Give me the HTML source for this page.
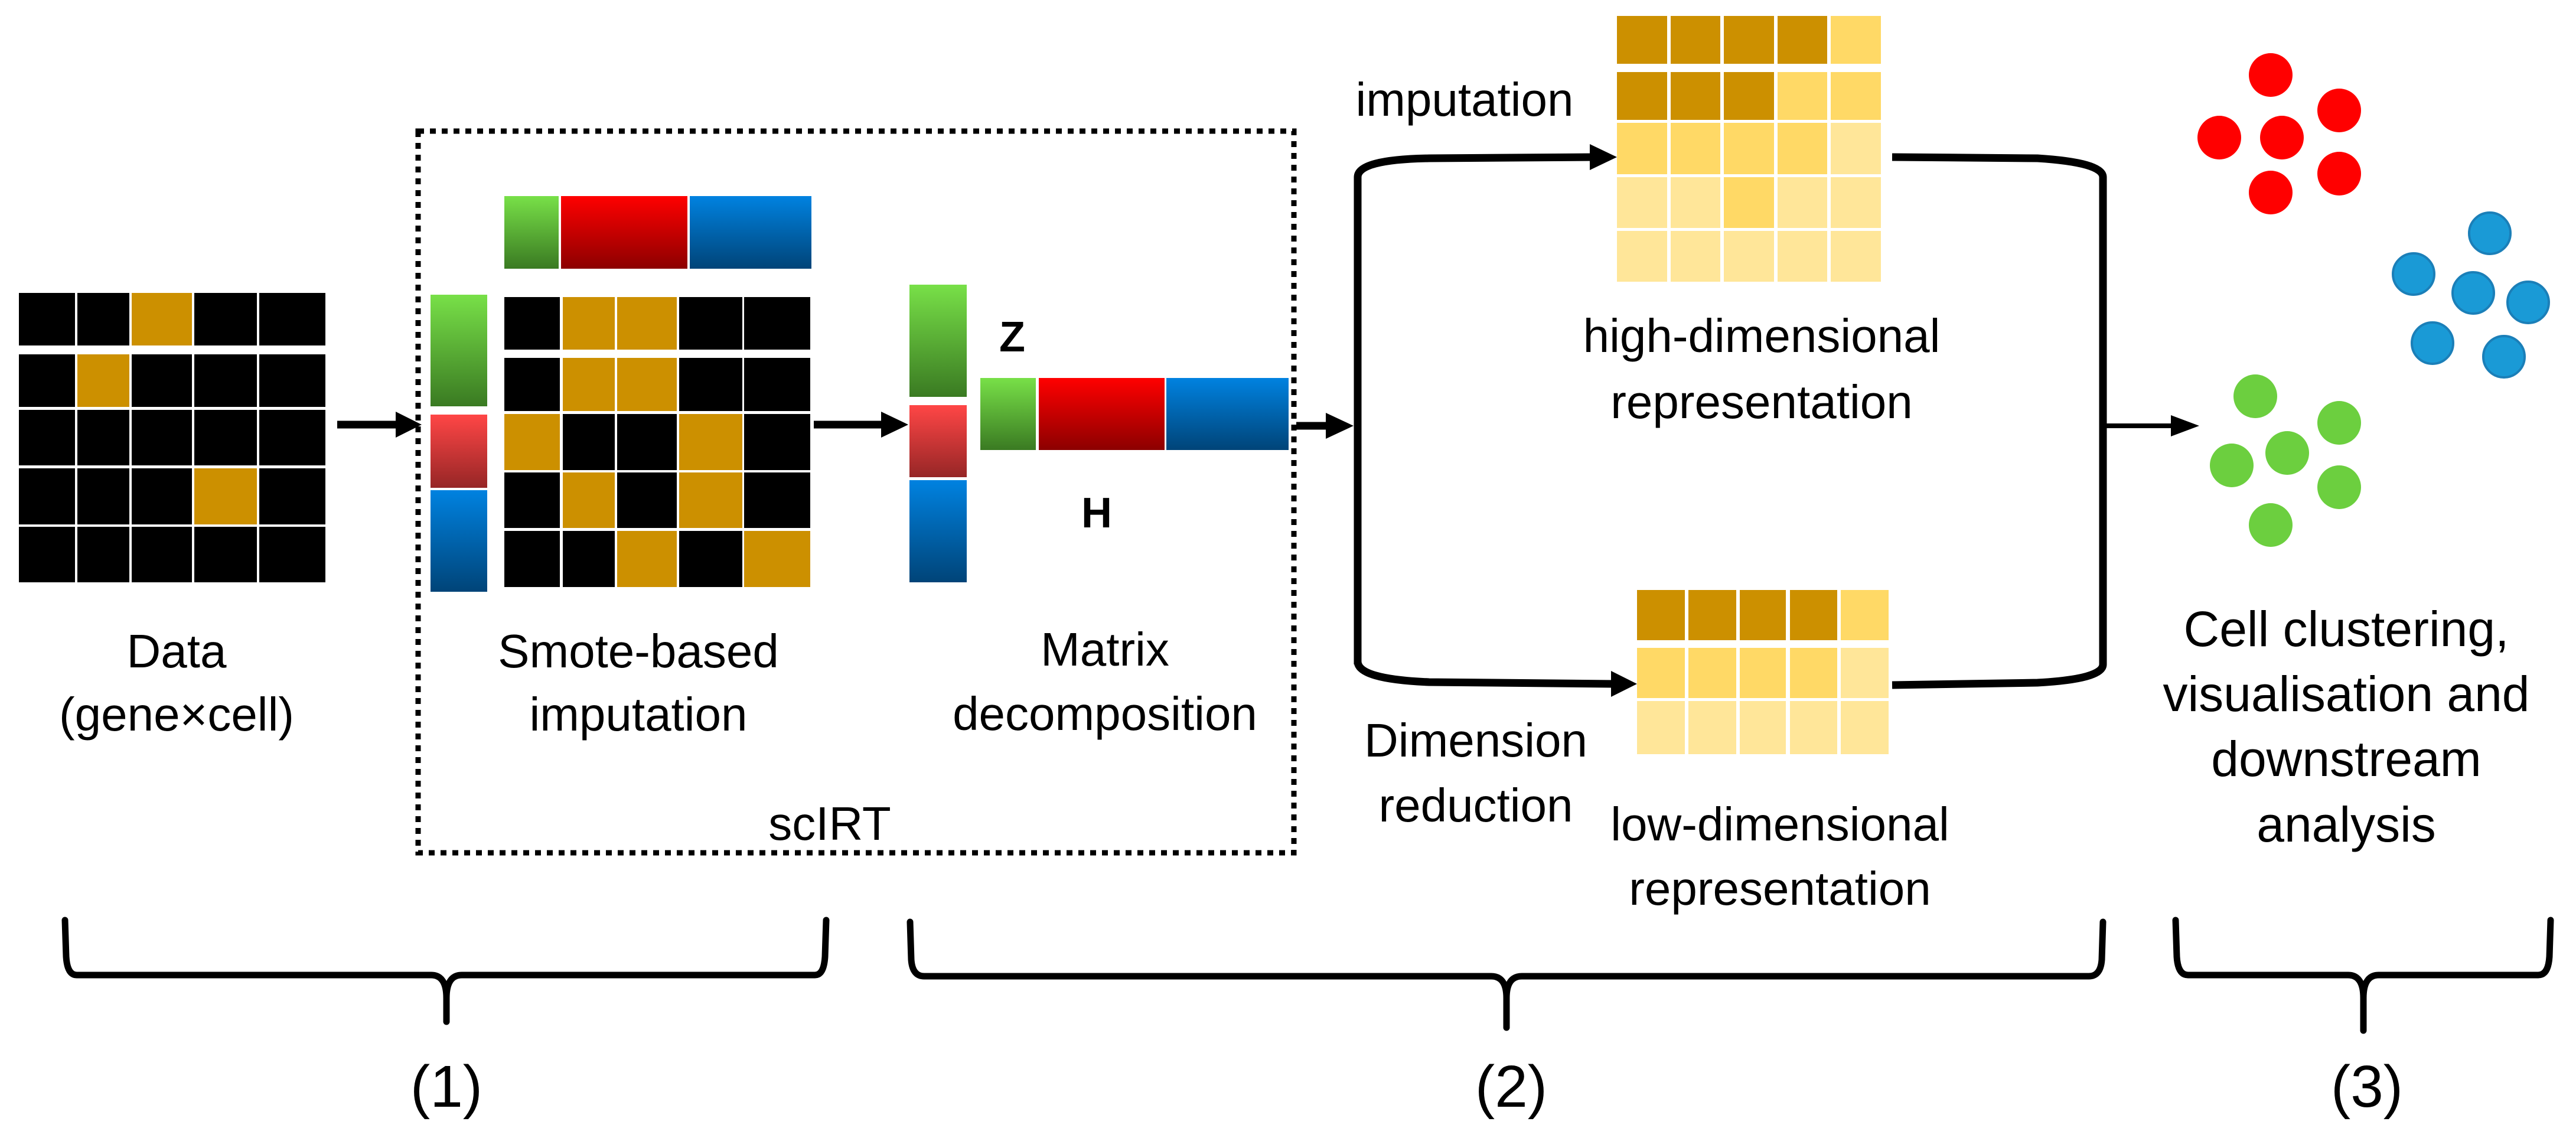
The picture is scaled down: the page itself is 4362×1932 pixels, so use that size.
<!DOCTYPE html>
<html><head><meta charset="utf-8"><style>
html,body{margin:0;padding:0;background:#fff;}
svg{display:block;}
text{font-family:"Liberation Sans",sans-serif;fill:#000;}
</style></head><body>
<svg width="4362" height="1932" viewBox="0 0 4362 1932" xmlns="http://www.w3.org/2000/svg">
<defs>
<linearGradient id="g" x1="0" y1="0" x2="0" y2="1"><stop offset="0" stop-color="#78e048"/><stop offset="1" stop-color="#3a7a22"/></linearGradient>
<linearGradient id="r" x1="0" y1="0" x2="0" y2="1"><stop offset="0" stop-color="#ff0000"/><stop offset="1" stop-color="#8c0000"/></linearGradient>
<linearGradient id="r2" x1="0" y1="0" x2="0" y2="1"><stop offset="0" stop-color="#ff4646"/><stop offset="1" stop-color="#962626"/></linearGradient>
<linearGradient id="b" x1="0" y1="0" x2="0" y2="1"><stop offset="0" stop-color="#0082e0"/><stop offset="1" stop-color="#004478"/></linearGradient>
</defs>

<!-- Data matrix -->
<g>
<rect x="32" y="496" width="519" height="490" fill="#fff"/>
<g fill="#000">
<rect x="32" y="496" width="95" height="89"/><rect x="131" y="496" width="88" height="89"/><rect x="223" y="496" width="102" height="89" fill="#cc9000"/><rect x="329" y="496" width="106" height="89"/><rect x="439" y="496" width="112" height="89"/>
<rect x="32" y="600" width="95" height="89"/><rect x="131" y="600" width="88" height="89" fill="#cc9000"/><rect x="223" y="600" width="102" height="89"/><rect x="329" y="600" width="106" height="89"/><rect x="439" y="600" width="112" height="89"/>
<rect x="32" y="694" width="95" height="94"/><rect x="131" y="694" width="88" height="94"/><rect x="223" y="694" width="102" height="94"/><rect x="329" y="694" width="106" height="94"/><rect x="439" y="694" width="112" height="94"/>
<rect x="32" y="793" width="95" height="95"/><rect x="131" y="793" width="88" height="95"/><rect x="223" y="793" width="102" height="95"/><rect x="329" y="793" width="106" height="95" fill="#cc9000"/><rect x="439" y="793" width="112" height="95"/>
<rect x="32" y="892" width="95" height="94"/><rect x="131" y="892" width="88" height="94"/><rect x="223" y="892" width="102" height="94"/><rect x="329" y="892" width="106" height="94"/><rect x="439" y="892" width="112" height="94"/>
</g>
</g>
<text x="299" y="1130" font-size="80" text-anchor="middle">Data</text>
<text x="299" y="1237" font-size="80" text-anchor="middle">(gene×cell)</text>

<!-- arrow 1 -->
<line x1="571" y1="719" x2="680" y2="719" stroke="#000" stroke-width="13"/>
<polygon points="670,697 714,719 670,741" fill="#000"/>

<!-- dotted box -->
<rect x="708" y="222" width="1483" height="1222" fill="none" stroke="#000" stroke-width="9" stroke-dasharray="10 10"/>
<text x="1405" y="1422" font-size="80" text-anchor="middle">scIRT</text>

<!-- smote bars -->
<rect x="854" y="332" width="92" height="123" fill="url(#g)"/>
<rect x="950" y="332" width="214" height="123" fill="url(#r)"/>
<rect x="1168" y="332" width="206" height="123" fill="url(#b)"/>
<rect x="729" y="499" width="96" height="189" fill="url(#g)"/>
<rect x="729" y="702" width="96" height="124" fill="url(#r2)"/>
<rect x="729" y="830" width="96" height="172" fill="url(#b)"/>
<g>
<rect x="854" y="503" width="94" height="89" fill="#000"/><rect x="953" y="503" width="88" height="89" fill="#cc9000"/><rect x="1045" y="503" width="101" height="89" fill="#cc9000"/><rect x="1150" y="503" width="107" height="89" fill="#000"/><rect x="1260" y="503" width="112" height="89" fill="#000"/>
<rect x="854" y="606" width="94" height="90" fill="#000"/><rect x="953" y="606" width="88" height="90" fill="#cc9000"/><rect x="1045" y="606" width="101" height="90" fill="#cc9000"/><rect x="1150" y="606" width="107" height="90" fill="#000"/><rect x="1260" y="606" width="112" height="90" fill="#000"/>
<rect x="854" y="701" width="94" height="95" fill="#cc9000"/><rect x="953" y="701" width="88" height="95" fill="#000"/><rect x="1045" y="701" width="101" height="95" fill="#000"/><rect x="1150" y="701" width="107" height="95" fill="#cc9000"/><rect x="1260" y="701" width="112" height="95" fill="#000"/>
<rect x="854" y="800" width="94" height="94" fill="#000"/><rect x="953" y="800" width="88" height="94" fill="#cc9000"/><rect x="1045" y="800" width="101" height="94" fill="#000"/><rect x="1150" y="800" width="107" height="94" fill="#cc9000"/><rect x="1260" y="800" width="112" height="94" fill="#000"/>
<rect x="854" y="899" width="94" height="95" fill="#000"/><rect x="953" y="899" width="88" height="95" fill="#000"/><rect x="1045" y="899" width="101" height="95" fill="#cc9000"/><rect x="1150" y="899" width="107" height="95" fill="#000"/><rect x="1260" y="899" width="112" height="95" fill="#cc9000"/>
</g>
<text x="1081" y="1130" font-size="80" text-anchor="middle">Smote-based</text>
<text x="1081" y="1237" font-size="80" text-anchor="middle">imputation</text>

<!-- arrow 2 -->
<line x1="1378" y1="719" x2="1500" y2="719" stroke="#000" stroke-width="13"/>
<polygon points="1492,697 1538,719 1492,741" fill="#000"/>

<!-- decomposition -->
<rect x="1540" y="482" width="97" height="190" fill="url(#g)"/>
<rect x="1540" y="686" width="97" height="122" fill="url(#r2)"/>
<rect x="1540" y="813" width="97" height="173" fill="url(#b)"/>
<rect x="1660" y="640" width="94" height="122" fill="url(#g)"/>
<rect x="1759" y="640" width="213" height="122" fill="url(#r)"/>
<rect x="1975" y="640" width="207" height="122" fill="url(#b)"/>
<text x="1714" y="595" font-size="72" font-weight="bold" text-anchor="middle">Z</text>
<text x="1857" y="893" font-size="72" font-weight="bold" text-anchor="middle">H</text>
<text x="1871" y="1127" font-size="80" text-anchor="middle">Matrix</text>
<text x="1871" y="1236" font-size="80" text-anchor="middle">decomposition</text>

<!-- arrow 3 -->
<line x1="2195" y1="721" x2="2250" y2="721" stroke="#000" stroke-width="13"/>
<polygon points="2245,699 2292,721 2245,743" fill="#000"/>

<!-- split connector -->
<path d="M2299 1125 L2299 300 Q2299 270 2420 268 L2700 266" fill="none" stroke="#000" stroke-width="13"/>
<polygon points="2692,244 2738,266 2692,288" fill="#000"/>
<path d="M2299 1120 Q2299 1150 2420 1155 L2730 1158" fill="none" stroke="#000" stroke-width="13"/>
<polygon points="2728,1136 2772,1158 2728,1180" fill="#000"/>
<path d="M3204 266 L3450 268 Q3561 275 3561 300 L3561 1125 Q3561 1150 3450 1156 L3204 1160" fill="none" stroke="#000" stroke-width="13"/>
<line x1="3561" y1="721" x2="3690" y2="721" stroke="#000" stroke-width="8"/>
<polygon points="3676,703 3724,721 3676,739" fill="#000"/>

<text x="2480" y="196" font-size="80" text-anchor="middle">imputation</text>

<!-- high-dim matrix -->
<g>
<rect x="2738" y="27" width="85" height="81" fill="#cc9000"/><rect x="2829" y="27" width="84" height="81" fill="#cc9000"/><rect x="2919" y="27" width="85" height="81" fill="#cc9000"/><rect x="3010" y="27" width="84" height="81" fill="#cc9000"/><rect x="3100" y="27" width="85" height="81" fill="#ffd966"/>
<rect x="2738" y="122" width="85" height="81" fill="#cc9000"/><rect x="2829" y="122" width="84" height="81" fill="#cc9000"/><rect x="2919" y="122" width="85" height="81" fill="#cc9000"/><rect x="3010" y="122" width="84" height="81" fill="#ffd966"/><rect x="3100" y="122" width="85" height="81" fill="#ffd966"/>
<rect x="2738" y="208" width="85" height="87" fill="#ffd966"/><rect x="2829" y="208" width="84" height="87" fill="#ffd966"/><rect x="2919" y="208" width="85" height="87" fill="#ffd966"/><rect x="3010" y="208" width="84" height="87" fill="#ffd966"/><rect x="3100" y="208" width="85" height="87" fill="#ffe699"/>
<rect x="2738" y="300" width="85" height="86" fill="#ffe699"/><rect x="2829" y="300" width="84" height="86" fill="#ffe699"/><rect x="2919" y="300" width="85" height="86" fill="#ffd966"/><rect x="3010" y="300" width="84" height="86" fill="#ffe699"/><rect x="3100" y="300" width="85" height="86" fill="#ffe699"/>
<rect x="2738" y="391" width="85" height="86" fill="#ffe699"/><rect x="2829" y="391" width="84" height="86" fill="#ffe699"/><rect x="2919" y="391" width="85" height="86" fill="#ffe699"/><rect x="3010" y="391" width="84" height="86" fill="#ffe699"/><rect x="3100" y="391" width="85" height="86" fill="#ffe699"/>
</g>
<text x="2983" y="596" font-size="80" text-anchor="middle">high-dimensional</text>
<text x="2983" y="708" font-size="80" text-anchor="middle">representation</text>

<!-- low-dim matrix -->
<g>
<rect x="2772" y="999" width="81" height="85" fill="#cc9000"/><rect x="2859" y="999" width="81" height="85" fill="#cc9000"/><rect x="2946" y="999" width="78" height="85" fill="#cc9000"/><rect x="3031" y="999" width="80" height="85" fill="#cc9000"/><rect x="3117" y="999" width="81" height="85" fill="#ffd966"/>
<rect x="2772" y="1097" width="81" height="85" fill="#ffd966"/><rect x="2859" y="1097" width="81" height="85" fill="#ffd966"/><rect x="2946" y="1097" width="78" height="85" fill="#ffd966"/><rect x="3031" y="1097" width="80" height="85" fill="#ffd966"/><rect x="3117" y="1097" width="81" height="85" fill="#ffe699"/>
<rect x="2772" y="1187" width="81" height="90" fill="#ffe699"/><rect x="2859" y="1187" width="81" height="90" fill="#ffe699"/><rect x="2946" y="1187" width="78" height="90" fill="#ffe699"/><rect x="3031" y="1187" width="80" height="90" fill="#ffe699"/><rect x="3117" y="1187" width="81" height="90" fill="#ffe699"/>
</g>
<text x="2499" y="1281" font-size="80" text-anchor="middle">Dimension</text>
<text x="2499" y="1391" font-size="80" text-anchor="middle">reduction</text>
<text x="3014" y="1423" font-size="80" text-anchor="middle">low-dimensional</text>
<text x="3014" y="1532" font-size="80" text-anchor="middle">representation</text>

<!-- dots -->
<g fill="#ff0000">
<circle cx="3845" cy="127" r="37"/><circle cx="3961" cy="187" r="37"/><circle cx="3758" cy="233" r="37"/><circle cx="3864" cy="233" r="37"/><circle cx="3845" cy="326" r="37"/><circle cx="3961" cy="294" r="37"/>
</g>
<g fill="#1a9ad6" stroke="#1b7fb8" stroke-width="4">
<circle cx="4216" cy="395" r="35"/><circle cx="4087" cy="464" r="35"/><circle cx="4188" cy="496" r="35"/><circle cx="4281" cy="512" r="35"/><circle cx="4119" cy="581" r="35"/><circle cx="4240" cy="604" r="35"/>
</g>
<g fill="#6ccf3f">
<circle cx="3819" cy="671" r="37"/><circle cx="3961" cy="716" r="37"/><circle cx="3779" cy="788" r="37"/><circle cx="3873" cy="767" r="37"/><circle cx="3961" cy="825" r="37"/><circle cx="3845" cy="889" r="37"/>
</g>
<text x="3973" y="1094" font-size="84" text-anchor="middle">Cell clustering,</text>
<text x="3973" y="1204" font-size="84" text-anchor="middle">visualisation and</text>
<text x="3973" y="1314" font-size="84" text-anchor="middle">downstream</text>
<text x="3973" y="1425" font-size="84" text-anchor="middle">analysis</text>

<!-- brackets -->
<g fill="none" stroke="#000" stroke-width="11" stroke-linecap="round">
<path d="M110 1558 L112 1620 Q114 1651 130 1651 L730 1651 Q756 1651 756 1690 L756 1730"/>
<path d="M1399 1558 L1397 1620 Q1395 1651 1380 1651 L782 1651 Q756 1651 756 1690"/>
<path d="M1541 1561 L1543 1625 Q1545 1653 1565 1653 L2525 1653 Q2551 1653 2551 1690 L2551 1740"/>
<path d="M3561 1561 L3559 1625 Q3557 1653 3537 1653 L2577 1653 Q2551 1653 2551 1690"/>
<path d="M3684 1558 L3686 1620 Q3688 1651 3705 1651 L3976 1651 Q4002 1651 4002 1690 L4002 1745"/>
<path d="M4319 1558 L4317 1620 Q4315 1651 4298 1651 L4028 1651 Q4002 1651 4002 1690"/>
</g>
<text x="756" y="1874" font-size="100" text-anchor="middle">(1)</text>
<text x="2559" y="1874" font-size="100" text-anchor="middle">(2)</text>
<text x="4008" y="1874" font-size="100" text-anchor="middle">(3)</text>
</svg>
</body></html>
